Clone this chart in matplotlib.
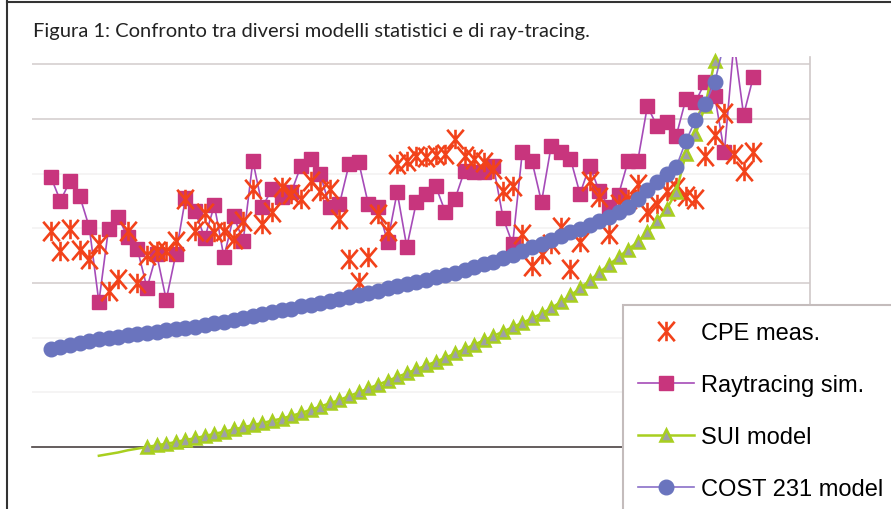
import numpy as np
import matplotlib.pyplot as plt
from matplotlib.lines import Line2D
from matplotlib.patches import Rectangle
from matplotlib.path import Path

# measurement / simulation points, one per sample position
cpe_meas = [99.5, 95.8, 99.9, 96.0, 94.4, 97.1, 88.5, 90.7, 99.5, 90.0,
            95.1, 95.8, 95.8, 97.7, 105.3, 99.5, 102.8, 99.3, 99.5, 98.0,
            101.3, 107.2, 100.8, 103.0, 107.5, 106.3, 105.3, 108.6, 106.8, 107.2,
            101.7, 94.4, 90.2, 94.7, 102.6, 99.5, 111.7, 112.3, 113.2, 113.0,
            113.4, 113.6, 116.3, 113.2, 112.7, 112.1, 110.8, 106.8, 107.7, 98.9,
            93.1, 95.3, 97.1, 100.2, 92.5, 97.5, 108.6, 105.7, 98.9, 104.4,
            105.3, 108.1, 103.0, 104.4, 106.8, 107.5, 105.9, 105.3, 113.2, 117.0,
            121.1, 113.6, 110.5, 113.9]

raytracing = [109.4, 105.0, 108.6, 105.9, 100.2, 86.5, 99.9, 102.0, 98.4, 96.2,
              89.1, 95.3, 86.9, 95.3, 105.5, 103.1, 98.2, 104.2, 94.7, 102.2,
              97.7, 112.3, 103.9, 107.2, 105.7, 106.6, 111.4, 112.7, 109.9, 103.9,
              104.4, 111.7, 112.1, 104.4, 103.9, 97.5, 106.6, 96.6, 104.8, 106.3,
              107.7, 103.0, 105.3, 110.5, 110.3, 110.3, 111.4, 101.9, 97.1, 113.9,
              112.3, 104.8, 115.0, 113.9, 112.7, 106.3, 111.4, 106.8, 103.9, 106.1,
              112.3, 112.3, 122.3, 118.7, 119.4, 116.9, 123.6, 123.1, 126.7, 124.2,
              113.9, 134.0, 120.7, 127.6]

sui_model = [58.4, 58.7, 59.0, 59.4, 59.7, 60.0, 60.3, 60.6, 60.9, 61.3,
             61.6, 62.0, 62.4, 62.8, 63.2, 63.6, 64.0, 64.4, 64.8, 65.2,
             65.7, 66.2, 66.8, 67.4, 68.0, 68.6, 69.3, 70.0, 70.7, 71.4,
             72.1, 72.8, 73.5, 74.2, 74.9, 75.6, 76.3, 77.1, 77.9, 78.7,
             79.5, 80.3, 81.1, 81.9, 82.7, 83.5, 84.4, 85.4, 86.5, 87.7,
             89.0, 90.4, 91.9, 93.3, 94.7, 96.1, 97.5, 99.3, 101.3, 103.5,
             106.6, 113.6, 117.2, 122.3, 130.6]

cost231 = [77.9, 78.3, 78.6, 79.0, 79.3, 79.7, 79.9, 80.2, 80.4, 80.7,
           80.9, 81.1, 81.3, 81.6, 81.8, 82.0, 82.3, 82.6, 82.9, 83.3,
           83.6, 83.9, 84.3, 84.6, 85.0, 85.3, 85.7, 86.0, 86.4, 86.7,
           87.1, 87.4, 87.8, 88.2, 88.6, 89.0, 89.4, 89.8, 90.2, 90.6,
           91.0, 91.4, 91.9, 92.4, 92.9, 93.4, 93.9, 94.5, 95.1, 95.8,
           96.5, 97.2, 97.9, 98.6, 99.3, 99.9, 100.6, 101.3, 102.1, 102.9,
           103.8, 105.3, 107.0, 108.4, 109.9, 111.2, 115.9, 119.8, 122.7, 126.7,
           134.0]

x_meas = np.arange(1, len(cpe_meas) + 1)
x_sui = np.arange(6, 6 + len(sui_model))
x_cost = np.arange(1, len(cost231) + 1)

grid_levels = [70, 80, 90, 100, 110, 120, 130]
strong_grid = [90, 120, 130]

labels = ['CPE meas.', 'Raytracing sim.', 'SUI model', 'COST 231 model']
title = 'Figura 1: Confronto tra diversi modelli statistici e di ray-tracing.'

# excel-like star marker: an X crossed by a vertical bar
asterisk = Path([(-0.85, -1), (0.85, 1), (-0.85, 1), (0.85, -1), (0, -1), (0, 1)],
                [Path.MOVETO, Path.LINETO] * 3)

W, H = 891, 510
fig = plt.figure(figsize=(W / 100, H / 100), dpi=100)
fig.patch.set_facecolor('white')

ax = fig.add_axes([32 / W, 1 - 448 / H, (810 - 32) / W, (448 - 58) / H])
ax.set_xlim(-0.95, 79.9)
ax.set_ylim(60, 131.3)

for g in grid_levels:
    c = '#d6cfcf' if g in strong_grid else '#f4f2f2'
    ax.axhline(g, color=c, lw=1.2, zorder=0)

ax.plot(x_meas, raytracing, color='#a64bb8', lw=1.2, marker='s', ms=9.5,
        mfc='#c8357d', mec='#c8357d', label=labels[1], zorder=2)
ax.plot(x_meas, cpe_meas, ls='none', marker=asterisk, ms=14, mfc='none',
        mec='#f2421a', mew=1.9, label=labels[0], zorder=3)
ax.plot(x_sui, sui_model, color='#a8cf1f', lw=1.8, marker='^', ms=9,
        mfc='#9ea0a6', mec='#a8cf1f', mew=1.8, markevery=slice(5, None),
        clip_on=False, label=labels[2], zorder=4)
ax.plot(x_cost, cost231, color='#8a70c8', lw=1.2, marker='o', ms=10.5,
        mfc='#6a74be', mec='#6a74be', label=labels[3], zorder=5)

for s in ['top', 'left']:
    ax.spines[s].set_visible(False)
ax.spines['right'].set_color('#cfc8c8')
ax.spines['right'].set_linewidth(1.2)
ax.spines['bottom'].set_color('#4a4242')
ax.spines['bottom'].set_linewidth(1.2)
ax.set_xticks([])
ax.set_yticks([])

# legend box runs off the right and bottom edges of the page
box = Rectangle((623 / W, -0.05), 0.5, 1 - 306 / H + 0.05, transform=fig.transFigure,
                facecolor='white', edgecolor='#c4bcbc', lw=1.5, clip_on=False,
                zorder=9)
ax.add_artist(box)

handles, labs = ax.get_legend_handles_labels()
order = [labs.index(l) for l in labels]
leg = ax.legend([handles[k] for k in order], labels, loc='upper left',
                bbox_to_anchor=(623 / W, 1 - 308 / H), bbox_transform=fig.transFigure,
                borderaxespad=0, frameon=False, numpoints=1,
                prop={'family': 'Liberation Sans', 'size': 17},
                borderpad=0.65, labelspacing=1.27, handlelength=2.35,
                handletextpad=0.3)
leg.set_zorder(10)

fig.text(33 / W, 1 - 37 / H, title, family='Lato', fontsize=14.5, color='#222222',
         va='baseline')

# page frame (left and top rules)
fig.add_artist(Line2D([6.5 / W, 6.5 / W], [0, 1], transform=fig.transFigure,
                      color='#333333', lw=1.5))
fig.add_artist(Line2D([6.5 / W, 1], [1 - 2.7 / H, 1 - 2.7 / H],
                      transform=fig.transFigure, color='#333333', lw=1.5))

fig.savefig('out.png', dpi=100)
